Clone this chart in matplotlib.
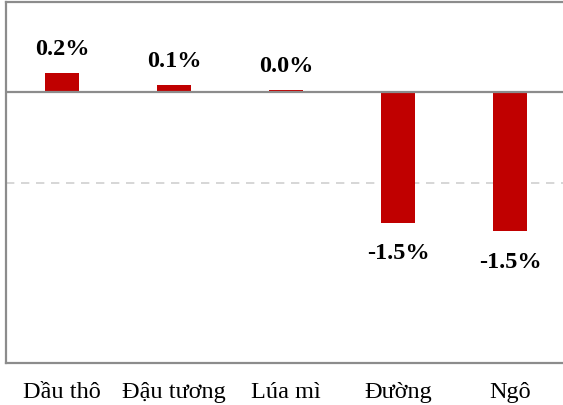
import matplotlib
matplotlib.use("Agg")
import matplotlib.pyplot as plt

categories = ["Dầu thô", "Đậu tương", "Lúa mì", "Đường", "Ngô"]
values = [0.21, 0.08, 0.03, -1.45, -1.54]
labels = ["0.2%", "0.1%", "0.0%", "-1.5%", "-1.5%"]

plt.rcParams['font.family'] = ['Liberation Serif', 'DejaVu Serif']

fig = plt.figure(figsize=(5.63, 4.06), dpi=100)
ax = fig.add_axes([6/563, 1 - 364/406, 560/563, 361/406])

x = list(range(len(categories)))
ax.bar(x, values, width=0.31, color="#c00000", zorder=3)

ax.set_xlim(-0.5, len(categories) - 0.5)
ax.set_ylim(-3, 1)
ax.set_yticks([1, -1, -3])
ax.yaxis.grid(True, linestyle=(0, (5, 4)), color="#d0d0d0", linewidth=1.2, zorder=0)
ax.tick_params(axis='y', left=False, labelleft=False)
ax.axhline(0, color="#8c8c8c", linewidth=1.6, zorder=4)

ax.set_xticks(x)
ax.set_xticklabels(categories, fontsize=17.5)
ax.tick_params(axis='x', length=0, pad=13)

for s in ["left", "top", "bottom"]:
    ax.spines[s].set_color("#8c8c8c")
    ax.spines[s].set_linewidth(1.6)
ax.spines["right"].set_visible(False)

for xi, v, lab in zip(x, values, labels):
    if v >= 0:
        ax.annotate(lab, (xi, v), xytext=(0, 17.5), textcoords="offset points",
                    ha="center", va="center", fontsize=17.5, fontweight="bold")
    else:
        ax.annotate(lab, (xi, v), xytext=(0, -21.5), textcoords="offset points",
                    ha="center", va="center", fontsize=17.5, fontweight="bold")

fig.savefig("out.png", dpi=100)
